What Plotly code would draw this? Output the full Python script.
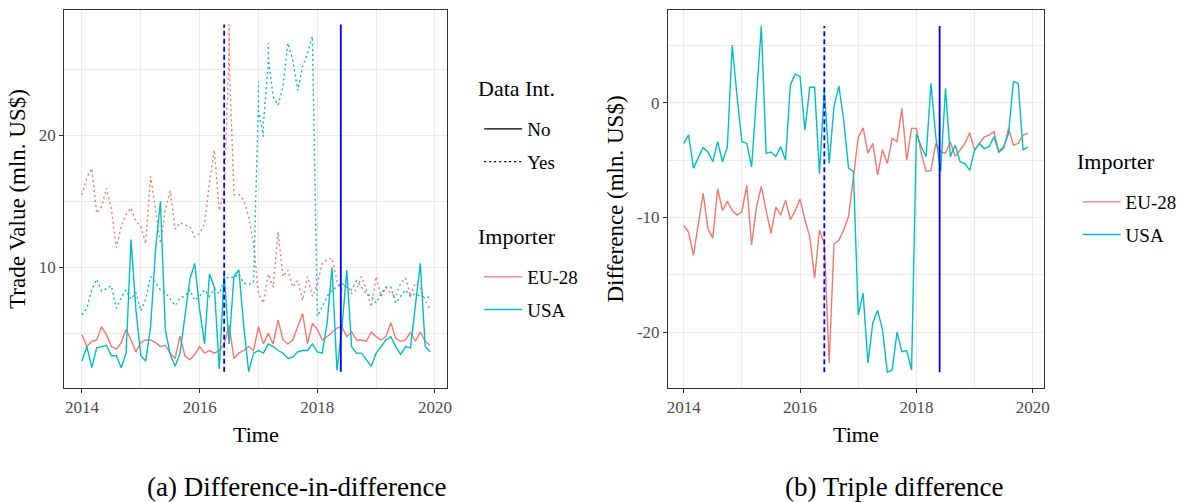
import plotly.graph_objects as go

# ---------------- data ----------------
YEARS = [2014, 2015, 2016, 2017, 2018, 2019]
MONTH_TIME = [y + m / 12 for y in YEARS for m in range(12)]

# (a) Trade value (mln. US$); entries given as lists = several readings in the same month
EU_NO = [4.9, 4.0, 4.4, 4.5, 5.5, 4.9, 4.0, 3.8, 4.3, 5.3, 4.5, 3.6,
         4.3, 4.5, 4.5, 4.3, 4.0, 4.1, 3.5, 3.1, 4.8, 3.3, 3.0, 3.4,
         4.0, 3.5, 3.7, 3.5, 3.7, 4.2, 5.6, 3.1, 3.5, 3.7, 4.0, 3.7,
         5.5, 4.2, 5.0, 4.2, 6.0, 4.5, 4.2, 4.5, 5.5, 6.5, 4.2, 5.75,
         5.3, 4.5, 4.75, 5.1, 5.4, 5.5, 4.75, 5.1, 4.5, 4.5, 4.4, 5.1,
         4.75, 4.5, 4.75, 5.8, 4.6, 4.4, 4.5, 5.1, 4.4, 5.1, 4.4, 4.1]
EU_YES = [15.5, 16.8, 17.5, 14.1, 14.6, 16.0, 14.4, 11.5, 13.1, 14.0, 14.5, 13.5,
          13.1, 11.8, 16.9, 14.2, 11.8, 14.4, 15.8, 12.9, 13.4, 13.2, 13.1, 12.3,
          12.6, 13.3, 16.4, 18.9, 14.3, 15.8, [26.2, 28.4, 26.2, 28.4, 26.2], 15.5, 15.5, 15.1, 13.8, 11.8,
          8.0, 7.3, 9.5, 8.5, 12.7, 9.3, 9.8, 8.5, 9.0, 7.5, 9.3, 7.8,
          8.7, 10.3, 10.6, 10.7, 9.0, 8.3, 8.8, 8.0, 8.3, 9.3, 8.3, 7.0,
          9.3, 7.8, 8.5, 8.0, 7.8, 8.8, 9.2, 7.8, 8.8, 8.5, 7.5, 6.8]
USA_NO = [2.9, 4.0, 2.4, 3.9, 4.0, 4.1, 3.3, 3.3, 2.4, 3.5, 12.1, 6.8,
          3.3, 2.9, 5.5, 11.3, 15.0, 5.3, 3.4, 2.5, 3.5, 6.5, 9.1, 10.3,
          6.8, 4.2, 9.5, 8.5, 2.3, 9.5, 4.2, 9.3, 9.8, 5.5, 2.1, 3.5,
          3.7, 3.5, 4.2, 4.0, 3.7, 3.5, 3.1, 3.2, 3.6, 3.7, 3.7, 4.2,
          3.6, 3.5, 5.8, 10.0, 2.2, 5.3, 9.8, 4.0, 3.5, 3.5, 3.0, 2.5,
          3.5, 4.0, 4.5, 4.75, 4.0, 3.4, 4.0, 3.9, 7.3, 10.3, 4.0, 3.6]
USA_YES = [6.4, 6.9, 8.3, 9.1, 8.2, 8.4, 8.6, 6.9, 7.7, 8.3, 7.6, 8.1,
           6.7, 7.6, 9.3, 8.8, 8.3, 8.1, 7.6, 7.1, 7.7, 7.8, 8.3, 7.5,
           7.8, 8.3, 7.8, 8.4, 8.0, 9.0, 9.3, 9.2, 9.5, 8.8, 8.7, 8.9,
           [22.8, 24.1, 21.9], [19.9, 21.1, 20.9], [25.4, 27.0, 25.9], 22.9, 22.3, 23.7, 27.0, 25.7, 23.4, 25.2, 26.2, 27.5,
           6.3, 7.0, 7.8, 8.3, 8.5, 8.8, 8.5, 8.3, 9.0, 8.5, 8.0, 7.8,
           7.3, 8.0, 8.5, 8.5, 7.3, 7.8, 8.3, 7.8, 8.0, 7.8, 7.8, 7.7]

# (b) Triple difference (mln. US$)
EU_DIFF = [-10.7, -11.3, -13.3, -10.5, -7.9, -11.0, -11.8, -7.5, -9.4, -8.6, -9.4, -9.8,
           -9.5, -7.2, -12.4, -9.1, -7.3, -9.4, -11.4, -9.1, -9.8, -8.5, -10.2, -9.4,
           -8.4, -10.2, -11.7, -15.3, -11.1, -12.3, -22.7, -12.3, -12.0, -11.1, -9.9, -6.5,
           -3.0, -2.2, -4.4, -3.55, -6.3, -4.1, -5.3, -3.1, -3.4, -0.5, -5.0, -2.24,
           -2.24, -4.4, -6.0, -5.9, -3.55, -4.3, -4.4, -3.4, -4.7, -4.13, -3.55, -2.62,
           -4.13, -3.55, -2.97, -2.82, -2.53, -4.3, -4.0, -2.24, -3.7, -3.55, -2.82, -2.67]
USA_DIFF = [-3.55, -2.8, -5.7, -4.86, -3.9, -4.3, -5.15, -3.4, -5.15, -3.84, 5.03, 0.52,
            -3.4, -3.55, -5.6, 0.52, 6.68, -4.42, -4.3, -4.7, -3.84, -5.0, 1.54, 2.5,
            2.27, -2.4, 1.34, 1.34, -6.2, 1.1, -5.3, -0.35, 1.45, -1.51, -5.7, -6.0,
            -18.5, -16.6, -22.7, -19.2, -18.1, -19.8, -23.5, -23.3, -20.0, -21.7, -21.6, -23.3,
            -2.7, -3.84, -4.7, 1.68, -2.97, -6.0, 1.25, -4.7, -3.7, -5.15, -5.3, -5.9,
            -4.13, -3.55, -4.0, -3.84, -2.97, -4.3, -3.84, -2.7, 1.83, 1.68, -4.13, -3.84]

EVENT_TIMES = [2016 + 5 / 12, 2018 + 4 / 12 + 24 / 365]
EVENT_DASH = ["5px,3px", "solid"]

IMPORTERS = ["EU-28", "USA"]
COLORS = {"EU-28": "#F8766D", "USA": "#00BFC4"}
DATA_INT = ["No", "Yes"]
DASHES = {"No": "solid", "Yes": "2px,3px"}

X_TICKS = [2014, 2016, 2018, 2020]
X_MINOR = [2015, 2017, 2019]
YA_TICKS = [10, 20]
YA_MINOR = [5, 15, 25]
YB_TICKS = [-20, -10, 0]
YB_MINOR = [-15, -5, 5]


def expand(values):
    xs, ys = [], []
    for t, v in zip(MONTH_TIME, values):
        for vv in (v if isinstance(v, list) else [v]):
            xs.append(t)
            ys.append(vv)
    return xs, ys


FONT = "Liberation Serif"
fig = go.Figure()

# ---- panel (a)
left_series = [("EU-28", "No", EU_NO), ("EU-28", "Yes", EU_YES),
               ("USA", "No", USA_NO), ("USA", "Yes", USA_YES)]
all_a = []
for imp, di, vals in left_series:
    xs, ys = expand(vals)
    all_a += ys
    fig.add_trace(go.Scatter(
        x=xs, y=ys, mode="lines", xaxis="x", yaxis="y",
        line=dict(color=COLORS[imp], width=1.4, dash=DASHES[di]),
        name=imp, legend="legend2", legendgroup="a" + imp,
        showlegend=(di == "No")))

for t, d in zip(EVENT_TIMES, EVENT_DASH):
    fig.add_trace(go.Scatter(x=[t, t], y=[min(all_a), max(all_a)], mode="lines",
                             xaxis="x", yaxis="y", showlegend=False,
                             line=dict(color="#0000FF", width=1.8, dash=d)))

for di in DATA_INT:
    fig.add_trace(go.Scatter(x=[None], y=[None], mode="lines", xaxis="x", yaxis="y",
                             name=di, legend="legend", legendgroup="d" + di,
                             line=dict(color="black", width=1.3, dash=DASHES[di])))

# ---- panel (b)
all_b = []
for imp, vals in zip(IMPORTERS, [EU_DIFF, USA_DIFF]):
    xs, ys = expand(vals)
    all_b += ys
    fig.add_trace(go.Scatter(
        x=xs, y=ys, mode="lines", xaxis="x2", yaxis="y2",
        line=dict(color=COLORS[imp], width=1.4),
        name=imp, legend="legend3", legendgroup="b" + imp))

for t, d in zip(EVENT_TIMES, EVENT_DASH):
    fig.add_trace(go.Scatter(x=[t, t], y=[min(all_b), max(all_b)], mode="lines",
                             xaxis="x2", yaxis="y2", showlegend=False,
                             line=dict(color="#0000FF", width=1.8, dash=d)))

W, H = 1186, 502
GRID = "#EBEBEB"
BORDER = "#333333"
tickfont = dict(family=FONT, size=17, color="#4D4D4D")
titlefont = dict(family=FONT, size=23, color="black")


def xax(domain, rng):
    return dict(domain=domain, range=rng, tickvals=X_TICKS, ticktext=[str(v) for v in X_TICKS],
                showgrid=True, gridcolor=GRID, gridwidth=1.1,
                minor=dict(tickvals=X_MINOR, showgrid=True, gridcolor=GRID, gridwidth=0.6),
                showline=True, mirror=True, linecolor=BORDER, linewidth=1.1,
                ticks="outside", ticklen=4, tickcolor=BORDER, tickfont=tickfont,
                zeroline=False, title=dict(text="Time", font=dict(titlefont, size=22), standoff=10))


def yax(domain, rng, ticks, minor, title, anchor):
    return dict(domain=domain, range=rng, tickvals=ticks, ticktext=[str(v) for v in ticks],
                showgrid=True, gridcolor=GRID, gridwidth=1.1,
                minor=dict(tickvals=minor, showgrid=True, gridcolor=GRID, gridwidth=0.6),
                showline=True, mirror=True, linecolor=BORDER, linewidth=1.1,
                ticks="outside", ticklen=4, tickcolor=BORDER, tickfont=tickfont,
                zeroline=False, anchor=anchor,
                title=dict(text=title, font=titlefont, standoff=6))


def legend_box(x_px, top_px):
    return dict(x=x_px / W, y=1 - top_px / H, xanchor="left", yanchor="top",
                font=dict(family=FONT, size=19), tracegroupgap=5,
                itemwidth=38, bgcolor="rgba(0,0,0,0)")


def title_note(text, x_px, y_px):
    return dict(text=text, x=x_px / W, y=1 - y_px / H, xref="paper", yref="paper",
                showarrow=False, xanchor="left", yanchor="middle",
                font=dict(family=FONT, size=22, color="black"))


ydom = [1 - 388 / H, 1 - 10 / H]
layout = dict(
    width=W, height=H, margin=dict(l=0, r=0, t=0, b=0),
    paper_bgcolor="white", plot_bgcolor="white",
    font=dict(family=FONT, color="black"),
    xaxis=dict(xax([63.7 / W, 449 / W], [2013.70, 2020.21]), anchor="y"),
    yaxis=yax(ydom, [0.86, 29.5], YA_TICKS, YA_MINOR, "Trade Value (mln. US$)", "x"),
    xaxis2=dict(xax([671 / W, 1049 / W], [2013.73, 2020.19]), anchor="y2"),
    yaxis2=yax(ydom, [-24.87, 8.08], YB_TICKS, YB_MINOR, "Difference (mln. US$)", "x2"),
    legend=legend_box(481, 110),
    legend2=legend_box(481, 258),
    legend3=legend_box(1083, 183),
    annotations=[
        title_note("Data Int.", 478, 88),
        title_note("Importer", 478, 236),
        title_note("Importer", 1080, 162),
        dict(text="(a) Difference-in-difference", x=298 / W, y=1 - 487 / H,
             xref="paper", yref="paper", showarrow=False, xanchor="center", yanchor="middle",
             font=dict(family=FONT, size=27, color="black")),
        dict(text="(b) Triple difference", x=898 / W, y=1 - 487 / H,
             xref="paper", yref="paper", showarrow=False, xanchor="center", yanchor="middle",
             font=dict(family=FONT, size=27, color="black")),
    ],
)
fig.update_layout(layout)
fig.write_html("out.html")
